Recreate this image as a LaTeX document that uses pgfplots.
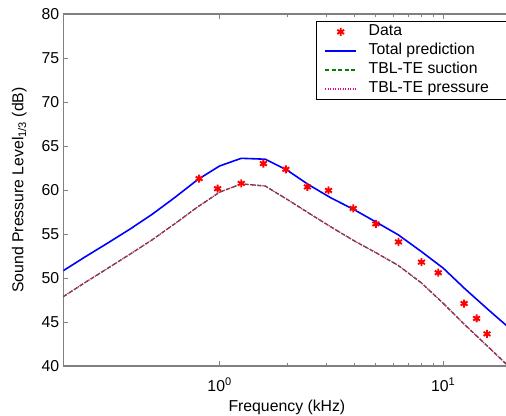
\documentclass[border=0pt]{standalone}
\usepackage{fontspec}
\setmainfont{Liberation Sans}
\usepackage{pgfplots}
\pgfplotsset{compat=1.18}
\definecolor{axgray}{RGB}{128,128,128}
\definecolor{mgreen}{RGB}{0,128,0}
\pgfplotsset{
  marklegend/.style={legend image code/.code={\draw[mark repeat=2,mark phase=2,##1] plot coordinates {(0bp,0bp) (15.5bp,0bp) (31bp,0bp)};}},
  linelegend/.style={legend image code/.code={\draw[##1] (0bp,0bp) -- (31bp,0bp);}},
}
\begin{document}
\fontsize{15.8bp}{19bp}\selectfont
\begin{tikzpicture}
\useasboundingbox (0,0) rectangle (506bp,416bp);
\begin{axis}[
  at={(63.3bp,50bp)}, anchor=south west,
  scale only axis, width=447.2bp, height=352bp,
  xmode=log, xmin=0.2, xmax=20, ymin=40, ymax=80,
  xtick={1,10}, xticklabels={10\textsuperscript{0},10\textsuperscript{1}},
  ytick={40,45,...,80},
  /pgf/number format/assume math mode=true,
  tick align=inside,
  major tick length=5bp, minor tick length=3bp,
  axis line style={axgray, line width=1.2bp},
  every tick/.style={axgray, line width=0.8bp},
  yticklabel style={anchor=east, inner sep=0pt, xshift=-4bp},
  xticklabel style={anchor=base, inner sep=0pt, yshift=-25.7bp},
  xlabel={Frequency (kHz)},
  ylabel={Sound Pressure Level\textsubscript{1/3} (dB)},
  xlabel style={at={(axis description cs:0.5,0)}, anchor=base, inner sep=0pt, yshift=-45.5bp},
  ylabel style={at={(axis description cs:-0.089,0.5)}, anchor=base, inner sep=0pt},
  linelegend,
  legend cell align=left,
  legend style={at={(0.5644,0.981)}, anchor=north west, draw=black, line width=0.8bp, fill=white,
    font=\fontsize{15.8bp}{19bp}\selectfont,
    inner xsep=8.3bp, inner ysep=3.3bp, row sep=4bp,
    nodes={inner sep=0pt, text height=11.5bp, text depth=3.5bp},
    /tikz/every odd column/.append style={column sep=11.7bp}},
]
\addplot[only marks, mark=asterisk, mark size=4bp, red, line width=1.9bp, marklegend]
  coordinates {(0.81,61.3) (0.98,60.15) (1.25,60.75) (1.57,63.0) (1.98,62.35) (2.47,60.35) (3.07,59.95) (3.96,57.9) (5.0,56.15) (6.31,54.1) (8.0,51.8) (9.5,50.6) (12.4,47.1) (14.1,45.4) (15.7,43.65)};
\addlegendentry{Data}
\addplot[blue, line width=1.6bp, mark=none]
  coordinates {(0.2,50.83) (0.25,52.39) (0.315,53.95) (0.4,55.6) (0.5,57.25) (0.63,59.14) (0.8,61.2) (1.0,62.73) (1.25,63.6) (1.6,63.5) (2.0,62.27) (2.5,60.6) (3.15,59.1) (4.0,57.76) (5.0,56.37) (6.3,54.9) (8.0,52.99) (10.0,51.12) (12.5,48.78) (16.0,46.34) (20.0,44.2)};
\addlegendentry{Total prediction}
\addplot[mgreen, line width=1.3bp, dash pattern=on 4bp off 2.5bp, mark=none]
  coordinates {(0.2,47.88) (0.25,49.48) (0.315,51.08) (0.4,52.75) (0.5,54.35) (0.63,56.16) (0.8,58.1) (1.0,59.75) (1.25,60.7) (1.6,60.45) (2.0,58.95) (2.5,57.39) (3.15,55.8) (4.0,54.22) (5.0,52.88) (6.3,51.42) (8.0,49.43) (10.0,47.12) (12.5,44.68) (16.0,42.1) (20.0,39.76)};
\addlegendentry{TBL-TE suction}
\addplot[magenta, line width=1.3bp, dash pattern=on 1.2bp off 1.3bp, mark=none]
  coordinates {(0.2,47.88) (0.25,49.48) (0.315,51.08) (0.4,52.75) (0.5,54.35) (0.63,56.16) (0.8,58.1) (1.0,59.75) (1.25,60.7) (1.6,60.45) (2.0,58.95) (2.5,57.39) (3.15,55.8) (4.0,54.22) (5.0,52.88) (6.3,51.42) (8.0,49.43) (10.0,47.12) (12.5,44.68) (16.0,42.1) (20.0,39.76)};
\addlegendentry{TBL-TE pressure\hspace*{8.7bp}}
\end{axis}
\end{tikzpicture}
\end{document}
